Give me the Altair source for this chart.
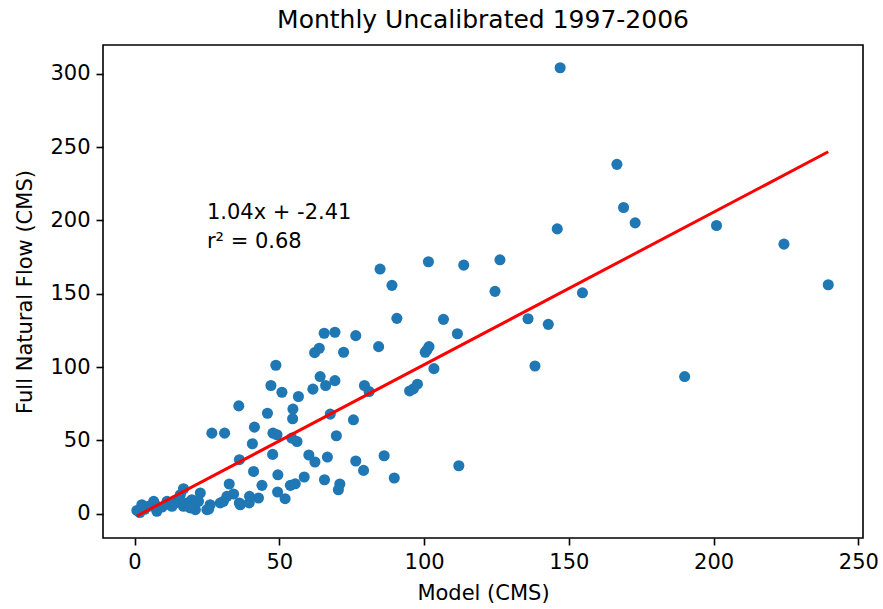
import altair as alt
import pandas as pd

# Model (CMS) values
model = [
    147.0, 166.6, 168.9, 172.9, 146.0, 201.0, 224.3, 239.6, 126.2, 124.5,
    135.9, 142.9, 154.7, 138.3, 190.0, 112.0,
    84.8, 101.5, 113.7, 88.9, 90.6, 106.7, 111.5, 65.5, 69.2, 76.4,
    84.3, 62.2, 63.8, 72.2, 101.0, 101.7, 100.4, 103.4, 64.1, 61.6,
    66.0, 69.2, 56.6, 79.4, 81.0, 95.0, 96.3, 97.7, 67.6, 75.6,
    69.7, 56.1, 60.2, 62.3, 66.6, 76.4, 79.1, 86.2, 58.6, 65.6,
    70.9, 70.4, 89.7,
    48.8, 47.1, 50.9, 36.0, 54.7, 54.6, 45.9, 26.7, 31.1, 41.4,
    47.8, 49.2, 40.7, 54.3, 36.2, 47.7, 41.1, 49.5, 32.7, 44.0,
    53.8, 55.5, 49.4, 52.0, 39.7, 42.8, 34.2, 36.2, 30.7, 29.6,
    26.1, 25.6, 22.7, 22.1, 16.9, 19.8, 18.1, 15.8, 21.0,
    15.2, 11.2, 6.6, 2.5, 0.8, 4.8, 7.7, 12.9, 16.9, 19.2,
    25.0, 36.5, 39.6, 31.9, 1.8, 9.5, 13.8, 7.2, 3.5,
]
# Full Natural Flow (CMS) values
fnf = [
    304.1, 238.2, 208.8, 198.3, 194.2, 196.5, 183.8, 156.1, 173.1, 151.6,
    132.9, 129.1, 150.6, 100.7, 93.5, 32.7,
    166.8, 171.8, 169.5, 155.7, 133.2, 132.5, 122.7, 123.0, 123.7, 121.4,
    113.9, 109.8, 112.8, 110.1, 111.6, 113.9, 110.1, 98.9, 93.5, 84.9,
    87.4, 90.7, 79.9, 87.4, 83.3, 83.7, 85.1, 88.3, 67.9, 64.0,
    53.1, 49.2, 40.0, 35.2, 38.6, 35.9, 29.5, 39.5, 25.0, 23.1,
    20.2, 16.3, 24.3,
    101.2, 87.4, 82.8, 73.5, 71.3, 64.7, 68.5, 54.9, 54.9, 59.0,
    54.9, 53.8, 47.7, 51.5, 36.8, 40.4, 28.8, 26.5, 20.2, 19.3,
    19.3, 20.4, 14.8, 10.2, 11.8, 10.7, 13.4, 7.3, 8.4, 7.3,
    6.1, 3.2, 14.1, 8.4, 17.0, 9.5, 7.3, 12.9, 2.7,
    10.0, 8.4, 8.4, 6.1, 2.2, 5.0, 1.6, 5.0, 5.0, 3.9,
    2.7, 6.1, 7.3, 11.8, 0.8, 4.5, 7.0, 5.8, 3.0,
]

slope = 1.04
intercept = -2.41
r2 = 0.68
title_text = "Monthly Uncalibrated 1997-2006"
x_title = "Model (CMS)"
y_title = "Full Natural Flow (CMS)"
x_ticks = [0, 50, 100, 150, 200, 250]
y_ticks = [0, 50, 100, 150, 200, 250, 300]

pts = pd.DataFrame({"model": model, "fnf": fnf})
xmin, xmax = min(model), max(model)
fit = pd.DataFrame({"model": [xmin, xmax],
                    "fnf": [slope * xmin + intercept, slope * xmax + intercept]})
ann = pd.DataFrame({"model": [25.0], "fnf": [198.0],
                    "label": [[f"{slope:.2f}x + {intercept:.2f}", f"r\u00b2 = {r2:.2f}"]]})

xs = alt.Scale(domain=[-10.9, 251.6], nice=False, zero=False)
ys = alt.Scale(domain=[-16.6, 319.6], nice=False, zero=False)
xenc = alt.X("model:Q", scale=xs, title=x_title, axis=alt.Axis(values=x_ticks, format="d"))
yenc = alt.Y("fnf:Q", scale=ys, title=y_title, axis=alt.Axis(values=y_ticks, format="d"))

points = alt.Chart(pts).mark_circle(size=123, color="#1f77b4", opacity=1).encode(x=xenc, y=yenc)
line = alt.Chart(fit).mark_line(color="red", strokeWidth=3).encode(x=xenc, y=yenc)
text = alt.Chart(ann).mark_text(align="left", baseline="bottom", fontSize=21,
                                lineHeight=29, color="black",
                                font="DejaVu Sans").encode(x=xenc, y=yenc, text="label")

chart = (points + line + text).properties(
    width=760, height=493,
    title=alt.TitleParams(title_text, fontSize=25, fontWeight="normal", color="black",
                          font="DejaVu Sans", anchor="middle", offset=12),
    autosize=alt.AutoSizeParams(type="none"),
    padding={"left": 103, "top": 45, "right": 20, "bottom": 71},
).configure_view(
    stroke="black", strokeWidth=1.6
).configure_axis(
    grid=False, domain=False, labelFontSize=21, titleFontSize=21,
    labelFont="DejaVu Sans", titleFont="DejaVu Sans",
    labelColor="black", titleColor="black", tickColor="black",
    tickSize=7, tickWidth=1.6, labelPadding=6, titleFontWeight="normal",
).configure_axisX(titlePadding=10).configure_axisY(titlePadding=14)

chart.save("out.html", embed_options={"renderer": "svg", "actions": False})
